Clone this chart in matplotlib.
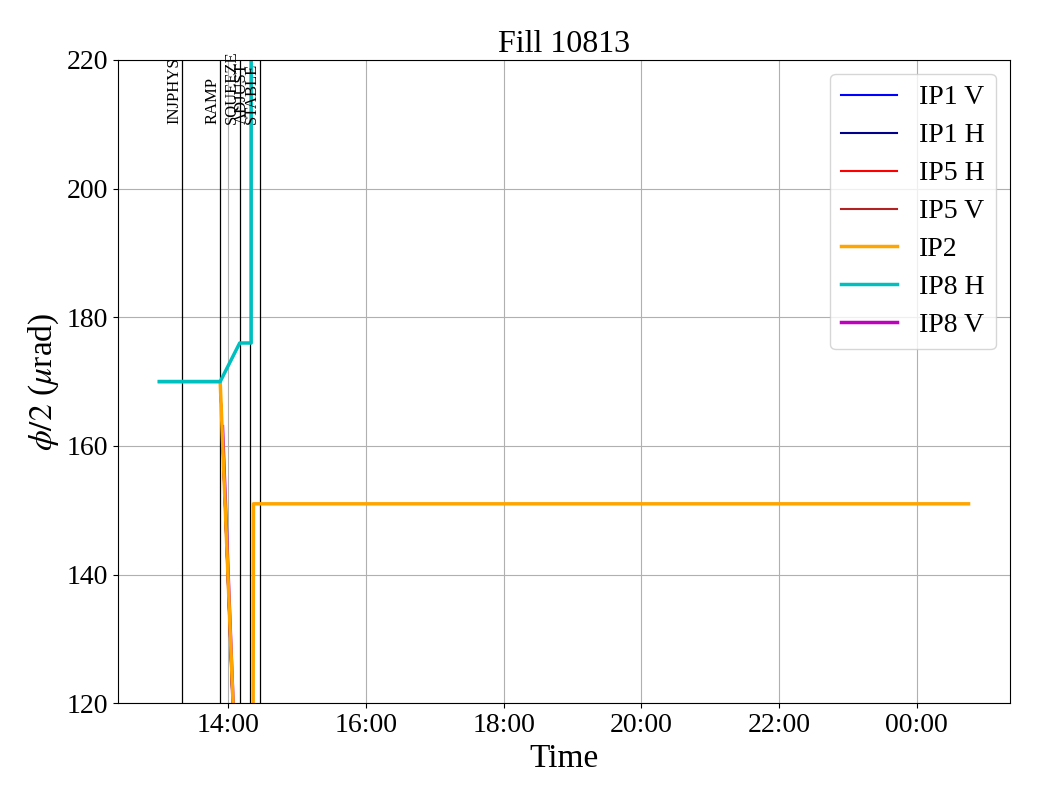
import matplotlib
matplotlib.use("Agg")
import matplotlib.pyplot as plt
import matplotlib.dates as mdates
import pandas as pd

plt.rcParams['font.family'] = ['Liberation Serif', 'DejaVu Serif']
plt.rcParams['mathtext.fontset'] = 'stix'

day = "2025-06-20 "
nxt = "2025-06-21 "

# series (time, value)
ip1v_t = [day + "13:00", day + "13:53", day + "14:21", day + "14:30"]
ip1v_v = [170, 170, 40, 40]
ip1h_t = [day + "13:00", day + "13:53", day + "14:21", day + "14:30"]
ip1h_v = [170, 170, 40, 40]
ip5h_t = [day + "13:00", day + "13:53", day + "14:21", day + "14:30"]
ip5h_v = [170, 170, 41, 41]
ip5v_t = [day + "13:00", day + "13:53", day + "14:21", day + "14:30"]
ip5v_v = [170, 170, 41, 41]
ip2_t = [day + "13:00", day + "13:53", day + "14:21", day + "14:22", nxt + "00:45"]
ip2_v = [170, 170, 45, 151, 151]
ip8h_t = [day + "13:00", day + "13:53", day + "14:10", day + "14:20", day + "14:22"]
ip8h_v = [170, 170, 176, 176, 3000]
ip8v_t = [day + "13:55", day + "14:21"]
ip8v_v = [163, 42]

events = ["INJPHYS", "RAMP", "SQUEEZE", "ADJUST", "STABLE"]
event_t = [day + "13:20", day + "13:53", day + "14:10", day + "14:19", day + "14:28"]

fig = plt.figure(figsize=(10.4, 8), dpi=100)
ax = fig.add_axes([0.1135, 0.121, 0.8575, 0.804])

def T(lst):
    return pd.to_datetime(lst)

ax.plot(T(ip1v_t), ip1v_v, color='blue', lw=1.5, label='IP1 V')
ax.plot(T(ip1h_t), ip1h_v, color='darkblue', lw=1.5, label='IP1 H')
ax.plot(T(ip5h_t), ip5h_v, color='red', lw=1.5, label='IP5 H')
ax.plot(T(ip5v_t), ip5v_v, color='firebrick', lw=1.5, label='IP5 V')
ax.plot(T(ip2_t), ip2_v, color='orange', lw=2.5, label='IP2', zorder=2.2)
ax.plot(T(ip8h_t), ip8h_v, color='c', lw=2.5, label='IP8 H', zorder=2.3)
ax.plot(T(ip8v_t), ip8v_v, color='m', lw=2.5, label='IP8 V', zorder=1.9)

ax.set_xlim(pd.Timestamp(day + "12:24"), pd.Timestamp(nxt + "01:21"))
ax.set_ylim(120, 220)

for name, t in zip(events, T(event_t)):
    ax.axvline(t, color='black', lw=0.9)
    ax.text(t, 210, name, rotation=90, ha='right', va='bottom', fontsize=12)

ax.xaxis.set_major_locator(mdates.HourLocator(byhour=range(0, 24, 2)))
ax.xaxis.set_major_formatter(mdates.DateFormatter('%H:%M'))
ax.grid(True, color='#b0b0b0', lw=0.8)
ax.tick_params(labelsize=20)
ax.set_xlabel('Time', fontsize=24)
ax.set_ylabel(r'$\phi/2$ ($\mu$rad)', fontsize=24)
ax.set_title('Fill 10813', fontsize=23)
ax.legend(loc='upper right', fontsize=20, handlelength=2.0, labelspacing=0.45)

fig.savefig('out.png', dpi=100)
